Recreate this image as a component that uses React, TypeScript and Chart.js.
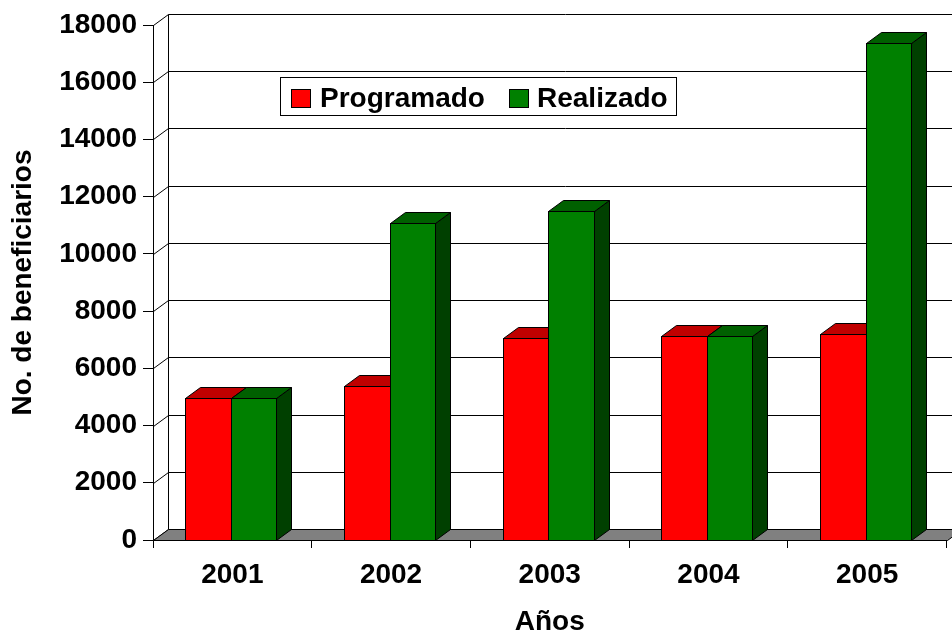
import React, { useEffect, useRef } from 'react';
import { Chart, registerables } from 'chart.js';

Chart.register(...registerables);

// ---- data ----
const categories = ['2001', '2002', '2003', '2004', '2005'];
const programado = [4980, 5380, 7050, 7130, 7210];
const realizado = [4980, 11070, 11500, 7130, 17360];
const seriesNames = ['Programado', 'Realizado'];
const yMin = 0;
const yMax = 18000;
const yStep = 2000;
const yTitle = 'No. de beneficiarios';
const xTitle = 'Años';

// ---- style ----
const FONT = "'Liberation Sans', Arial, sans-serif";
const FS = 28;
const DX = 15;
const DY = 11;
const faces = [
  { front: '#FF0000', top: '#C00000', side: '#800000' },
  { front: '#008000', top: '#006000', side: '#004000' },
];
const CANVAS_W = 1000;
const CANVAS_H = 635;

const px = (v: number) => Math.round(v) + 0.5;

const threeD = {
  id: 'threeD',
  beforeDatasetsDraw(chart: any) {
    const { ctx, chartArea: a, scales } = chart;
    const y = scales.y;
    ctx.save();
    ctx.lineWidth = 1;
    ctx.strokeStyle = '#000';
    const L = px(a.left);
    const R = px(a.right);
    const yb = px(y.getPixelForValue(yMin));
    const yt = px(y.getPixelForValue(yMax));
    for (let v = yMin; v <= yMax; v += yStep) {
      const py = px(y.getPixelForValue(v));
      ctx.beginPath();
      ctx.moveTo(L, py);
      ctx.lineTo(L + DX, py - DY);
      ctx.lineTo(R + DX, py - DY);
      ctx.stroke();
    }
    ctx.beginPath();
    ctx.moveTo(L + DX, yt - DY);
    ctx.lineTo(L + DX, yb - DY);
    ctx.moveTo(R + DX, yt - DY);
    ctx.lineTo(R + DX, yb - DY);
    ctx.stroke();
    ctx.fillStyle = '#808080';
    ctx.beginPath();
    ctx.moveTo(L, yb);
    ctx.lineTo(R, yb);
    ctx.lineTo(R + DX, yb - DY);
    ctx.lineTo(L + DX, yb - DY);
    ctx.closePath();
    ctx.fill();
    ctx.stroke();
    ctx.restore();
  },
  afterDatasetsDraw(chart: any) {
    const { ctx } = chart;
    ctx.save();
    ctx.lineWidth = 1;
    ctx.strokeStyle = '#000';
    ctx.lineJoin = 'miter';
    const n = categories.length;
    for (let i = 0; i < n; i++) {
      for (let d = 0; d < chart.data.datasets.length; d++) {
        const el = chart.getDatasetMeta(d).data[i];
        const { x, y, base, width } = el.getProps(['x', 'y', 'base', 'width'], true);
        const l = px(x - width / 2 - 1.5);
        const r = px(x + width / 2 - 1.5);
        const t = px(y);
        const b = px(base);
        const c = faces[d];
        ctx.fillStyle = c.side;
        ctx.beginPath();
        ctx.moveTo(r, t);
        ctx.lineTo(r + DX, t - DY);
        ctx.lineTo(r + DX, b - DY);
        ctx.lineTo(r, b);
        ctx.closePath();
        ctx.fill();
        ctx.stroke();
        ctx.fillStyle = c.top;
        ctx.beginPath();
        ctx.moveTo(l, t);
        ctx.lineTo(r, t);
        ctx.lineTo(r + DX, t - DY);
        ctx.lineTo(l + DX, t - DY);
        ctx.closePath();
        ctx.fill();
        ctx.stroke();
        ctx.fillStyle = c.front;
        ctx.fillRect(l, t, r - l, b - t);
        ctx.strokeRect(l, t, r - l, b - t);
      }
    }
    // legend
    const bx = 280.5, by = 77.5, bw = 396, bh = 38;
    ctx.fillStyle = '#fff';
    ctx.fillRect(bx, by, bw, bh);
    ctx.strokeRect(bx, by, bw, bh);
    ctx.font = `bold ${FS}px ${FONT}`;
    ctx.textBaseline = 'alphabetic';
    ctx.textAlign = 'left';
    const items = [
      { sx: 291.5, tx: 320 },
      { sx: 509.5, tx: 537 },
    ];
    seriesNames.forEach((name, k) => {
      ctx.fillStyle = faces[k].front;
      ctx.fillRect(items[k].sx, 89.5, 19, 18);
      ctx.strokeRect(items[k].sx, 89.5, 19, 18);
      ctx.fillStyle = '#000';
      ctx.fillText(name, items[k].tx, 107);
    });
    ctx.restore();
  },
};

export default function App() {
  const ref = useRef<HTMLCanvasElement>(null);
  useEffect(() => {
    if (!ref.current) return;
    const font = { family: FONT, size: FS, weight: 'bold' as const };
    const chart = new Chart(ref.current, {
      type: 'bar',
      data: {
        labels: categories,
        datasets: [
          { label: seriesNames[0], data: programado, backgroundColor: 'rgba(0,0,0,0)', borderWidth: 0 },
          { label: seriesNames[1], data: realizado, backgroundColor: 'rgba(0,0,0,0)', borderWidth: 0 },
        ],
      },
      options: {
        responsive: false,
        maintainAspectRatio: false,
        devicePixelRatio: 1,
        animation: false,
        events: [],
        layout: { padding: { left: 0, top: 25, right: CANVAS_W - 946.5, bottom: 0 } },
        datasets: { bar: { categoryPercentage: 0.573, barPercentage: 1 } },
        plugins: { legend: { display: false }, tooltip: { enabled: false } },
        scales: {
          x: {
            offset: true,
            grid: { offset: true, drawOnChartArea: false, drawTicks: true, tickLength: 8, color: '#000' },
            border: { display: true, color: '#000', width: 1 },
            ticks: { font, color: '#000', padding: 10, maxRotation: 0 },
            title: { display: true, text: xTitle, font: { ...font, lineHeight: 0.9 }, color: '#000', padding: { top: 0, bottom: 0 } },
            afterFit: (s: any) => { s.height = 95; },
          },
          y: {
            min: yMin,
            max: yMax,
            ticks: { stepSize: yStep, font, color: '#000', padding: 6, callback: (v: any) => String(v) },
            grid: { drawOnChartArea: false, drawTicks: true, tickLength: 10, color: '#000' },
            border: { display: true, color: '#000', width: 1 },
            title: { display: true, text: yTitle, font: { ...font, lineHeight: 1.2 }, color: '#000', padding: { top: 6, bottom: 0 } },
            afterFit: (s: any) => { s.width = 153; },
          },
        },
      },
      plugins: [threeD],
    });
    return () => chart.destroy();
  }, []);
  return (
    <div style={{ position: 'fixed', left: 0, top: 0, width: 952, height: 635, overflow: 'hidden', background: '#fff' }}>
      <canvas ref={ref} width={CANVAS_W} height={CANVAS_H} style={{ display: 'block', width: CANVAS_W, height: CANVAS_H }} />
    </div>
  );
}
